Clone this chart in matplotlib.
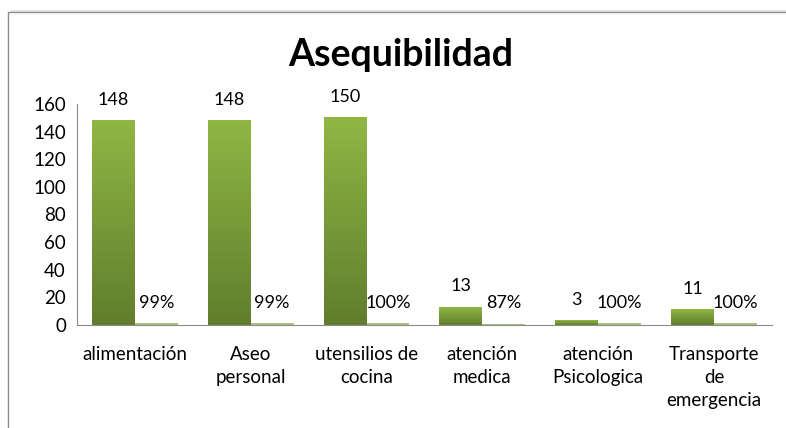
import numpy as np
import matplotlib
matplotlib.use("Agg")
import matplotlib.pyplot as plt
from matplotlib.colors import LinearSegmentedColormap
from matplotlib.patches import Rectangle

# datos
categorias = ["alimentación", "Aseo\npersonal", "utensilios de\ncocina",
              "atención\nmedica", "atención\nPsicologica", "Transporte\nde\nemergencia"]
cantidad = [148, 148, 150, 13, 3, 11]
porcentaje = [0.99, 0.99, 1.00, 0.87, 1.00, 1.00]
yticks = [0, 20, 40, 60, 80, 100, 120, 140, 160]

plt.rcParams['font.family'] = ['Lato', 'DejaVu Sans']

fig = plt.figure(figsize=(7.86, 4.28), dpi=100)

# marco con sombra
fig.patches.append(Rectangle((0.016, -0.05), 1.0, 1.02, transform=fig.transFigure,
                             facecolor="none", edgecolor="#e6e6e6", linewidth=5, zorder=0))
fig.patches.append(Rectangle((0.0105, -0.05), 1.0, 1.022, transform=fig.transFigure,
                             facecolor="white", edgecolor="#8c8c8c", linewidth=1, zorder=1))

ax = fig.add_axes([0.098, 0.241, 0.884, 0.516])
ax.set_zorder(2)
ax.patch.set_alpha(0)

x = np.arange(len(categorias))
w = 0.37
verde = LinearSegmentedColormap.from_list("verde", ["#617d2d", "#8fb744"])
grad = np.linspace(0, 1, 256).reshape(-1, 1)

for xi, v in zip(x, cantidad):
    ax.imshow(grad, extent=[xi - w, xi, 0, v], origin="lower", aspect="auto",
              cmap=verde, zorder=2)
    ax.annotate(str(v), (xi - w / 2, v), xytext=(0, 15), textcoords="offset points",
                ha="center", va="center", fontsize=13)

ax.bar(x + w / 2, porcentaje, width=w, color="#a6c47c", zorder=2)
for xi, p in zip(x, porcentaje):
    ax.annotate(f"{p:.0%}", (xi + w / 2, p), xytext=(0, 15), textcoords="offset points",
                ha="center", va="center", fontsize=13)

ax.set_xlim(-0.5, len(categorias) - 0.5)
ax.set_ylim(0, 160)
ax.set_yticks(yticks)
ax.set_xticks(x)
ax.set_xticklabels(categorias, linespacing=1.45, va="top")
ax.tick_params(axis="both", labelsize=13.5, length=0)
ax.tick_params(axis="x", pad=15)
ax.tick_params(axis="y", pad=8)
for s in ["top", "right"]:
    ax.spines[s].set_visible(False)
for s in ["left", "bottom"]:
    ax.spines[s].set_color("#8c8c8c")

fig.text(0.51, 0.872, "Asequibilidad", ha="center", va="center",
         fontsize=27, fontweight="bold")

fig.savefig("out.png", dpi=100)
